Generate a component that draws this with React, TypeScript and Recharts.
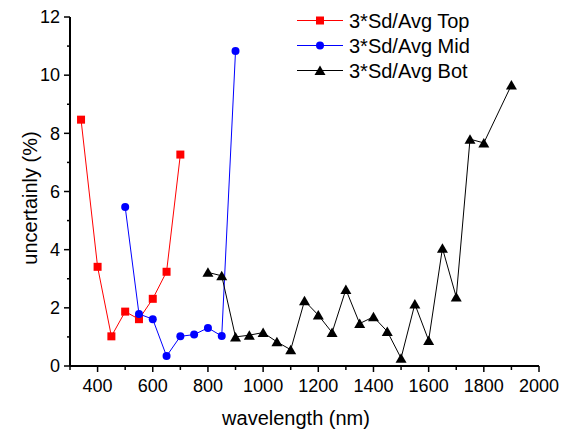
import React from 'react';
import { LineChart, Line, XAxis, YAxis } from 'recharts';

const topX = [340, 400, 450, 500, 550, 600, 650, 700];
const topY = [8.47, 3.41, 1.02, 1.87, 1.61, 2.31, 3.24, 7.27];

const midX = [500, 550, 600, 650, 700, 750, 800, 850, 900];
const midY = [5.47, 1.79, 1.61, 0.34, 1.02, 1.08, 1.31, 1.03, 10.83];

const botX = [800, 850, 900, 950, 1000, 1050, 1100, 1150, 1200, 1250, 1300, 1350, 1400, 1450, 1500, 1550, 1600, 1650, 1700, 1750, 1800, 1900];
const botY = [3.22, 3.1, 1.0, 1.06, 1.15, 0.83, 0.56, 2.24, 1.75, 1.15, 2.63, 1.46, 1.69, 1.19, 0.27, 2.13, 0.88, 4.05, 2.37, 7.8, 7.67, 9.66];

const xTicks = [300, 400, 500, 600, 700, 800, 900, 1000, 1100, 1200, 1300, 1400, 1500, 1600, 1700, 1800, 1900, 2000];
const xMajor = [400, 600, 800, 1000, 1200, 1400, 1600, 1800, 2000];
const yTicks = [0, 1, 2, 3, 4, 5, 6, 7, 8, 9, 10, 11, 12];
const yMajor = [0, 2, 4, 6, 8, 10, 12];

const seriesNames = ['3*Sd/Avg Top', '3*Sd/Avg Mid', '3*Sd/Avg Bot'];
const seriesColors = ['#ff0000', '#0000ff', '#000000'];

const FONT = '"Liberation Sans", Arial, sans-serif';

const toPoints = (xs: number[], ys: number[]) => xs.map((x, i) => ({ x, y: ys[i] }));

const topData = toPoints(topX, topY);
const midData = toPoints(midX, midY);
const botData = toPoints(botX, botY);

const Square = ({ cx, cy, color }: any) => (
  <rect x={cx - 4} y={cy - 4} width={8} height={8} fill={color} />
);
const Circle = ({ cx, cy, color }: any) => <circle cx={cx} cy={cy} r={4} fill={color} />;
const Triangle = ({ cx, cy, color }: any) => (
  <polygon points={`${cx},${cy - 5} ${cx + 5.5},${cy + 4.5} ${cx - 5.5},${cy + 4.5}`} fill={color} />
);

const markers = [Square, Circle, Triangle];

const XTick = (props: any) => {
  const { x, y, payload } = props;
  const major = xMajor.includes(payload.value);
  return (
    <g>
      <line x1={x} x2={x} y1={y} y2={y + (major ? 6 : 4)} stroke="#000" strokeWidth={1.5} />
      {major && (
        <text x={x} y={y + 26} textAnchor="middle" fontSize={18} fontFamily={FONT} fill="#000">
          {payload.value}
        </text>
      )}
    </g>
  );
};

const YTick = (props: any) => {
  const { x, y, payload } = props;
  const major = yMajor.includes(payload.value);
  return (
    <g>
      <line x1={x} x2={x - (major ? 6 : 3)} y1={y} y2={y} stroke="#000" strokeWidth={1.5} />
      {major && (
        <text x={x - 10} y={y} dy="0.35em" textAnchor="end" fontSize={18} fontFamily={FONT} fill="#000">
          {payload.value}
        </text>
      )}
    </g>
  );
};

const Legend = () => (
  <svg width={200} height={90} style={{ position: 'absolute', left: 290, top: 5 }}>
    {seriesNames.map((name, i) => {
      const cy = 15.5 + i * 25;
      const M = markers[i];
      return (
        <g key={name}>
          <line x1={7} x2={53} y1={cy} y2={cy} stroke={seriesColors[i]} strokeWidth={1} />
          <M cx={30} cy={cy} color={seriesColors[i]} />
          <text x={59} y={cy + 7} fontSize={20} fontFamily={FONT} fill="#000">
            {name}
          </text>
        </g>
      );
    })}
  </svg>
);

export default function App() {
  const lines = [topData, midData, botData];
  return (
    <div style={{ position: 'absolute', left: 0, top: 0, width: 565, height: 430, background: '#fff' }}>
      <LineChart width={565} height={430} margin={{ top: 17, right: 26, left: 10, bottom: 0 }}>
        <XAxis
          type="number"
          dataKey="x"
          domain={[300, 2000]}
          ticks={xTicks}
          interval={0}
          allowDataOverflow
          height={64}
          tickSize={0}
          tickMargin={0}
          tickLine={false}
          tick={<XTick />}
          axisLine={{ stroke: '#000', strokeWidth: 2 }}
          label={() => (
            <text x={296} y={425} textAnchor="middle" fontSize={20} fontFamily={FONT} fill="#000">
              wavelength (nm)
            </text>
          )}
        />
        <YAxis
          type="number"
          domain={[0, 12]}
          ticks={yTicks}
          interval={0}
          allowDataOverflow
          width={60}
          tickSize={0}
          tickMargin={0}
          tickLine={false}
          tick={<YTick />}
          axisLine={{ stroke: '#000', strokeWidth: 2 }}
          label={() => (
            <text
              x={30}
              y={198}
              transform="rotate(-90 30 198)"
              textAnchor="middle"
              dominantBaseline="central"
              fontSize={20}
              fontFamily={FONT}
              fill="#000"
            >
              uncertainly (%)
            </text>
          )}
        />
        {lines.map((d, i) => {
          const M = markers[i];
          return (
            <Line
              key={seriesNames[i]}
              data={d}
              dataKey="y"
              name={seriesNames[i]}
              type="linear"
              stroke={seriesColors[i]}
              strokeWidth={1}
              isAnimationActive={false}
              dot={(p: any) => <M key={p.index} cx={p.cx} cy={p.cy} color={seriesColors[i]} />}
              activeDot={false}
            />
          );
        })}
      </LineChart>
      <Legend />
    </div>
  );
}
